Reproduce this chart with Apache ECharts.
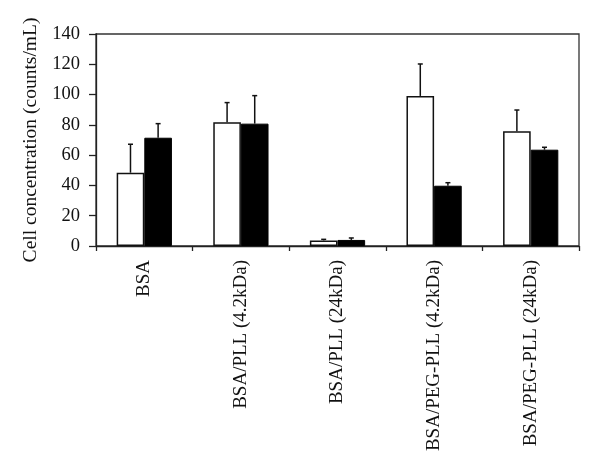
<!DOCTYPE html>
<html>
<head>
<meta charset="utf-8">
<script src="https://cdn.jsdelivr.net/npm/echarts@6/dist/echarts.min.js"></script>
<style>html,body{margin:0;padding:0;background:#fff}#c{width:600px;height:471px}</style>
</head>
<body>
<div id="c"></div>
<script>
var categories = ['BSA', 'BSA/PLL (4.2kDa)', 'BSA/PLL (24kDa)', 'BSA/PEG-PLL (4.2kDa)', 'BSA/PEG-PLL (24kDa)'];
var whiteValues = [48.4, 81.7, 3.7, 99.1, 75.7];
var whiteErrTop = [67.2, 94.7, 4.4, 120.2, 89.8];
var blackValues = [71.5, 80.8, 4.0, 39.8, 63.6];
var blackErrTop = [80.8, 99.3, 5.3, 41.8, 65.2];
var yTicks = [0, 20, 40, 60, 80, 100, 120, 140];

var FONT = 'Liberation Serif';
var BAR_FRAC = 0.286;

function errData(vals, tops) {
  return vals.map(function (v, i) { return [i, v, tops[i]]; });
}
function errRender(sign) {
  return function (params, api) {
    var idx = api.value(0);
    var band = api.size([1, 0])[0];
    var off = sign * band * BAR_FRAC / 2;
    var p0 = api.coord([idx, api.value(1)]);
    var p1 = api.coord([idx, api.value(2)]);
    var x = p0[0] + off;
    var style = { stroke: '#111', lineWidth: 1.5 };
    return {
      type: 'group',
      children: [
        { type: 'line', shape: { x1: x, y1: p0[1], x2: x, y2: p1[1] }, style: style },
        { type: 'line', shape: { x1: x - 2.5, y1: p1[1], x2: x + 2.5, y2: p1[1] }, style: style }
      ]
    };
  };
}

var chart = echarts.init(document.getElementById('c'));
chart.setOption({
  animation: false,
  grid: { left: 96, right: 21, top: 34, bottom: 225, show: true, borderColor: '#333', borderWidth: 1.3, backgroundColor: 'transparent' },
  xAxis: {
    type: 'category',
    data: categories,
    axisLine: { lineStyle: { color: '#222', width: 1.3 } },
    axisTick: { show: true, length: 5, inside: false, alignWithLabel: false, lineStyle: { color: '#222', width: 1.3 } },
    axisLabel: { rotate: 90, margin: 14, color: '#111', fontFamily: FONT, fontSize: 19, interval: 0 }
  },
  yAxis: {
    type: 'value',
    min: 0, max: 140, interval: 20,
    name: 'Cell concentration (counts/mL)',
    nameLocation: 'middle',
    nameGap: 55,
    nameTextStyle: { color: '#111', fontFamily: FONT, fontSize: 19.5 },
    axisLine: { show: true, lineStyle: { color: '#222', width: 1.3 } },
    axisTick: { show: true, length: 7, lineStyle: { color: '#222', width: 1.3 } },
    splitLine: { show: false },
    axisLabel: { margin: 16, color: '#111', fontFamily: FONT, fontSize: 18.5,
      formatter: function (v) { return yTicks.indexOf(v) >= 0 ? String(v) : ''; } }
  },
  series: [
    { type: 'bar', data: whiteValues, barWidth: (BAR_FRAC * 100) + '%', barGap: '0%',
      itemStyle: { color: '#fff', borderColor: '#111', borderWidth: 1.5 } },
    { type: 'bar', data: blackValues, barWidth: (BAR_FRAC * 100) + '%', barGap: '0%',
      itemStyle: { color: '#000', borderColor: '#000', borderWidth: 1 } },
    { type: 'custom', data: errData(whiteValues, whiteErrTop), renderItem: errRender(-1), z: 3,
      encode: { x: 0, y: [1, 2] } },
    { type: 'custom', data: errData(blackValues, blackErrTop), renderItem: errRender(1), z: 3,
      encode: { x: 0, y: [1, 2] } }
  ]
});
</script>
</body>
</html>
